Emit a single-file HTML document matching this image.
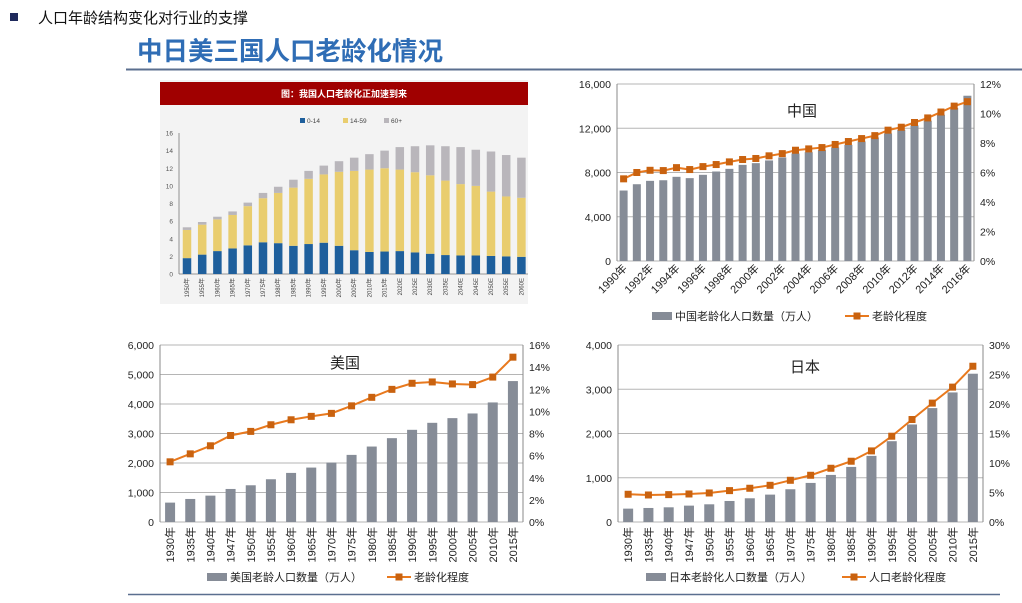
<!DOCTYPE html>
<html><head><meta charset="utf-8">
<style>
body{margin:0;background:#fff;}
svg{display:block;font-family:"Liberation Sans","Noto Sans CJK SC",sans-serif;}
</style></head>
<body>
<svg id="page" width="1022" height="603" viewBox="0 0 1022 603" xmlns="http://www.w3.org/2000/svg">
<rect x="0" y="0" width="1022" height="603" fill="#fff"/>
<rect x="10" y="13" width="8" height="8" fill="#1f2a5c"/>
<text x="38" y="23" font-size="15" fill="#111">人口年龄结构变化对行业的支撑</text>
<text x="137" y="60" font-size="25.5" font-weight="bold" fill="#2f6db5">中日美三国人口老龄化情况</text>
<line x1="126" y1="69.5" x2="1022" y2="69.5" stroke="#5b6f8f" stroke-width="2"/>
<line x1="128" y1="594.5" x2="1000" y2="594.5" stroke="#5b6f8f" stroke-width="1.5"/>

<g id="img">
<rect x="160" y="80" width="368" height="224" fill="#f3f3f3"/>
<rect x="160" y="82" width="368" height="23" fill="#a00000"/>
<text x="344" y="97" font-size="9" font-weight="bold" fill="#fff" text-anchor="middle">图：我国人口老龄化正加速到来</text>
</g>
<g id="cn"></g>
<g id="us"></g>
<g id="jp"></g>
</svg>
<script>
// ---- China data ----
const cnYears = [1990,1991,1992,1993,1994,1995,1996,1997,1998,1999,2000,2001,2002,2003,2004,2005,2006,2007,2008,2009,2010,2011,2012,2013,2014,2015,2016];
const cnPop = [6370,6940,7245,7300,7610,7490,7790,8090,8330,8690,8845,9090,9360,9720,9840,10020,10260,10500,10810,11170,11530,11860,12260,12680,13220,13830,14940];
const cnRatio = [5.57,6.0,6.15,6.13,6.33,6.2,6.4,6.54,6.72,6.88,6.95,7.13,7.28,7.51,7.6,7.69,7.9,8.1,8.3,8.5,8.87,9.07,9.39,9.7,10.1,10.5,10.8];
const cnLeftTicks = [0,4000,8000,12000,16000];
const cnRightTicks = [0,2,4,6,8,10,12];
// ---- US data ----
const usYears = ["1930","1935","1940","1947","1950","1955","1960","1965","1970","1975","1980","1985","1990","1995","2000","2005","2010","2015"];
const usPop = [657,781,894,1120,1245,1449,1664,1845,2015,2275,2558,2842,3125,3362,3521,3679,4053,4777];
const usRatio = [5.44,6.16,6.89,7.82,8.19,8.79,9.24,9.55,9.82,10.5,11.27,11.99,12.54,12.66,12.48,12.42,13.1,14.9];
const usLeftTicks = [0,1000,2000,3000,4000,5000,6000];
const usRightTicks = [0,2,4,6,8,10,12,14,16];
// ---- Japan data ----
const jpYears = ["1930","1935","1940","1947","1950","1955","1960","1965","1970","1975","1980","1985","1990","1995","2000","2005","2010","2015"];
const jpPop = [302,317,332,370,400,475,536,619,740,883,1064,1245,1494,1826,2204,2574,2928,3351];
const jpRatio = [4.7,4.58,4.64,4.75,4.92,5.32,5.72,6.22,7.07,7.92,9.11,10.3,12.05,14.54,17.37,20.15,22.86,26.4];
const jpLeftTicks = [0,1000,2000,3000,4000];
const jpRightTicks = [0,5,10,15,20,25,30];
// ---- Embedded stacked chart ----
const imgYears = ["1950年","1955年","1960年","1965年","1970年","1975年","1980年","1985年","1990年","1995年","2000年","2005年","2010年","2015年","2020E","2025E","2030E","2035E","2040E","2045E","2050E","2055E","2060E"];
const imgKids = [1.8,2.2,2.6,2.9,3.25,3.6,3.5,3.2,3.4,3.55,3.2,2.7,2.5,2.55,2.6,2.45,2.3,2.15,2.1,2.1,2.05,2.0,1.95];
const imgWorkTop = [5.0,5.6,6.2,6.7,7.7,8.6,9.2,9.8,10.8,11.3,11.6,11.7,11.85,12.0,11.85,11.55,11.2,10.6,10.2,10.0,9.35,8.8,8.65];
const imgTotal = [5.3,5.9,6.5,7.1,8.1,9.2,9.9,10.7,11.7,12.3,12.8,13.2,13.6,14.0,14.4,14.5,14.6,14.5,14.4,14.1,13.9,13.5,13.2];
const imgTicks = [0,2,4,6,8,10,12,14,16];

const NS = "http://www.w3.org/2000/svg";
function mk(parent, tag, attrs, text){
  const e = document.createElementNS(NS, tag);
  for (const k in attrs) e.setAttribute(k, attrs[k]);
  if (text !== undefined) e.textContent = text;
  parent.appendChild(e);
  return e;
}
function fmt(v){ return v.toLocaleString("en-US"); }

function combo(g, cfg){
  const {x0,x1,y0,y1,lMax,rMax,cats,pop,ratio,lt,rt,rot,labelEvery,barW} = cfg;
  const n = cats.length, step = (x1-x0)/n;
  const xs = i => x0 + step*(i+0.5);
  const yl = v => y0 - (v/lMax)*(y0-y1);
  const yr = v => y0 - (v/rMax)*(y0-y1);
  lt.forEach(t => {
    const gl = mk(g,"line",{x1:x0,x2:x1,y1:yl(t),y2:yl(t),stroke:"#b5b5b5","stroke-width":1});
    
    
    const tl = mk(g,"text",{x:x0-6,y:yl(t)+4,"font-size":10.5,"text-anchor":"end",fill:"#222"},fmt(t));
    
    
  });
  rt.forEach(t => {
    const tr = mk(g,"text",{x:x1+6,y:yr(t)+4,"font-size":10.5,fill:"#222"},t+"%");
    
    
  });
  const la = mk(g,"line",{x1:x0,x2:x0,y1:y1,y2:y0,stroke:"#888"});
  
  
  const ra = mk(g,"line",{x1:x1,x2:x1,y1:y1,y2:y0,stroke:"#888"});
  
  
  cats.forEach((c,i) => {
    const b = mk(g,"rect",{x:xs(i)-barW/2,y:yl(pop[i]),width:barW,height:y0-yl(pop[i]),fill:"#868c97"});
    
    
    if (i % labelEvery === 0){
      let t;
      if (rot === 45){
        t = mk(g,"text",{x:xs(i)+4,y:y0+8,"font-size":11,"text-anchor":"end",fill:"#222",transform:`rotate(-45 ${xs(i)+4} ${y0+8})`},c+"年");
      } else {
        t = mk(g,"text",{x:xs(i)+4,y:y0+5,"font-size":11,"text-anchor":"end",fill:"#222",transform:`rotate(-90 ${xs(i)+4} ${y0+5})`},c+"年");
      }
      
      
    }
  });
  const pts = ratio.map((r,i)=>xs(i)+","+yr(r)).join(" ");
  const pl = mk(g,"polyline",{points:pts,fill:"none",stroke:"#e8791e","stroke-width":2});
  
  
  ratio.forEach((r,i) => {
    const m = mk(g,"rect",{x:xs(i)-3.5,y:yr(r)-3.5,width:7,height:7,fill:"#c9620f"});
    
    
  });
  const tt = mk(g,"text",{x:cfg.tx,y:cfg.ty,"font-size":15,"text-anchor":"middle",fill:"#222"},cfg.title);
  
  
  const L = cfg.leg;
  const lb = mk(g,"rect",{x:L.bx,y:L.y-4,width:20,height:8,fill:"#868c97"});
  
  
  const lbt = mk(g,"text",{x:L.bx+23,y:L.y+4,"font-size":11,fill:"#222"},L.bt);
  
  
  const ll = mk(g,"line",{x1:L.lx,x2:L.lx+24,y1:L.y,y2:L.y,stroke:"#e8791e","stroke-width":2});
  
  
  const lm = mk(g,"rect",{x:L.lx+8.5,y:L.y-3.5,width:7,height:7,fill:"#c9620f"});
  
  
  const llt = mk(g,"text",{x:L.lx+27,y:L.y+4,"font-size":11,fill:"#222"},L.lt);
  
  
}

combo(document.getElementById("cn"),{x0:617,x1:974,y0:261,y1:84,lMax:16000,rMax:12,cats:cnYears,pop:cnPop,ratio:cnRatio,lt:cnLeftTicks,rt:cnRightTicks,rot:45,labelEvery:2,barW:8,title:"中国",tx:802,ty:116,
  leg:{y:316,bx:652,bt:"中国老龄化人口数量（万人）",lx:845,lt:"老龄化程度"}});
combo(document.getElementById("us"),{x0:160,x1:523,y0:522,y1:345,lMax:6000,rMax:16,cats:usYears,pop:usPop,ratio:usRatio,lt:usLeftTicks,rt:usRightTicks,rot:90,labelEvery:1,barW:10,title:"美国",tx:345,ty:368,
  leg:{y:577,bx:207,bt:"美国老龄人口数量（万人）",lx:387,lt:"老龄化程度"}});
combo(document.getElementById("jp"),{x0:618,x1:983,y0:522,y1:345,lMax:4000,rMax:30,cats:jpYears,pop:jpPop,ratio:jpRatio,lt:jpLeftTicks,rt:jpRightTicks,rot:90,labelEvery:1,barW:10,title:"日本",tx:805,ty:372,
  leg:{y:577,bx:646,bt:"日本老龄化人口数量（万人）",lx:842,lt:"人口老龄化程度"}});

// embedded stacked chart
(function(){
  const g = document.getElementById("img");
  const x0 = 179, y0 = 274, y1 = 133, max = 16;
  const step = 15.2, first = 187, bw = 8.5;
  const xs = i => first + step*i;
  const y = v => y0 - v/max*(y0-y1);
  imgTicks.forEach(t => {
    const tl = mk(g,"text",{x:x0-6,y:y(t)+2.5,"font-size":6.5,"text-anchor":"end",fill:"#555"},t);
    
    
  });
  const ax = mk(g,"line",{x1:x0,x2:x0,y1:y1,y2:y0,stroke:"#777","stroke-width":0.8});
  
  
  const bx = mk(g,"line",{x1:x0,x2:528,y1:y0,y2:y0,stroke:"#777","stroke-width":0.8});
  
  
  imgYears.forEach((c,i) => {
    const a = mk(g,"rect",{x:xs(i)-bw/2,y:y(imgKids[i]),width:bw,height:y0-y(imgKids[i]),fill:"#1e5f9c"});
    
    
    const b = mk(g,"rect",{x:xs(i)-bw/2,y:y(imgWorkTop[i]),width:bw,height:y(imgKids[i])-y(imgWorkTop[i]),fill:"#e9cd6e"});
    
    
    const d = mk(g,"rect",{x:xs(i)-bw/2,y:y(imgTotal[i]),width:bw,height:y(imgWorkTop[i])-y(imgTotal[i]),fill:"#b9b6bb"});
    
    
    const t = mk(g,"text",{x:xs(i)+2,y:y0+4,"font-size":6,"text-anchor":"end",fill:"#444",transform:`rotate(-90 ${xs(i)+2} ${y0+4})`},c);
    
    
  });
  const legs = [["0-14","#1e5f9c",300],["14-59","#e9cd6e",343],["60+","#b9b6bb",384]];
  legs.forEach(l => {
    const r = mk(g,"rect",{x:l[2],y:118,width:5,height:5,fill:l[1]});
    
    
    const t = mk(g,"text",{x:l[2]+7,y:123,"font-size":6.5,fill:"#444"},l[0]);
    
    
  });
})();
</script>
</body></html>
